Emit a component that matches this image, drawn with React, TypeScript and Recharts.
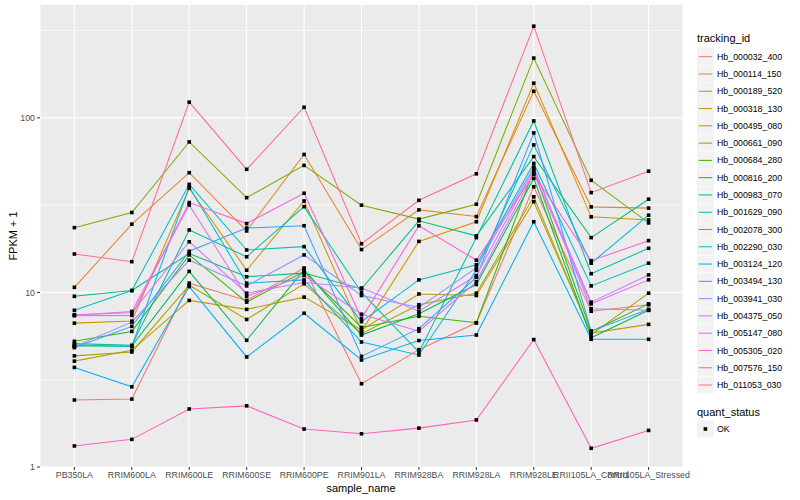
import React from 'react';
import { LineChart, Line, XAxis, YAxis, CartesianGrid } from 'recharts';

const FONT = "'Liberation Sans', Arial, Helvetica, sans-serif";

const categories = [
  'PB350LA', 'RRIM600LA', 'RRIM600LE', 'RRIM600SE', 'RRIM600PE', 'RRIM901LA',
  'RRIM928BA', 'RRIM928LA', 'RRIM928LE', 'RRII105LA_Control', 'RRII105LA_Stressed',
];

const trackingIds = [
  'Hb_000032_400', 'Hb_000114_150', 'Hb_000189_520', 'Hb_000318_130', 'Hb_000495_080',
  'Hb_000661_090', 'Hb_000684_280', 'Hb_000816_200', 'Hb_000983_070', 'Hb_001629_090',
  'Hb_002078_300', 'Hb_002290_030', 'Hb_003124_120', 'Hb_003494_130', 'Hb_003941_030',
  'Hb_004375_050', 'Hb_005147_080', 'Hb_005305_020', 'Hb_007576_150', 'Hb_011053_030',
];

const seriesColors = [
  '#F8766D', '#EA8331', '#D89000', '#C09B00', '#A3A500',
  '#7CAE00', '#39B600', '#00BB4E', '#00BF7D', '#00C1A3',
  '#00BFC4', '#00BAE0', '#00B0F6', '#35A2FF', '#9590FF',
  '#C77CFF', '#E76BF3', '#FA62DB', '#FF62BC', '#FF6C91',
];

const hb000032_400 = [2.42, 2.45, 11.3, 9.0, 13.8, 3.0, 4.7, 6.7, 40.3, 7.8, 8.5];
const hb000114_150 = [10.7, 24.6, 48.5, 22.5, 61.7, 17.6, 29.7, 27.2, 142, 30.9, 30.4];
const hb000189_520 = [6.67, 6.85, 39.5, 13.4, 33.4, 6.0, 19.6, 25.4, 158, 27.1, 26.0];
const hb000318_130 = [4.04, 4.66, 9.0, 8.0, 9.4, 6.1, 9.8, 9.6, 33.1, 5.85, 6.56];
const hb000495_080 = [4.33, 4.56, 11.0, 7.0, 11.2, 5.8, 8.5, 9.9, 35.3, 5.73, 9.9];
const hb000661_090 = [23.5, 28.7, 72.8, 34.9, 53.4, 31.6, 26.3, 32.0, 220, 43.9, 25.0];
const hb000684_280 = [5.25, 5.98, 16.4, 8.8, 13.2, 6.3, 7.3, 6.7, 50.0, 5.98, 8.6];
const hb000816_200 = [4.93, 4.93, 13.2, 5.32, 13.5, 5.7, 7.55, 11.1, 45, 5.5, 7.9];
const hb000983_070 = [9.5, 10.25, 16.7, 12.3, 12.9, 10.5, 25.7, 21.1, 60, 20.6, 34.2];
const hb001629_090 = [5.09, 4.98, 22.8, 16.0, 31.0, 10.0, 4.55, 20.6, 96, 12.8, 17.9];
const hb002078_300 = [7.9, 10.25, 41.6, 17.5, 18.3, 6.8, 11.8, 14.4, 54.8, 10.9, 14.7];
const hb002290_030 = [5.0, 4.9, 40.2, 11.3, 11.8, 5.2, 4.38, 13.4, 70, 14.7, 27.7];
const hb003124_120 = [3.72, 2.88, 10.8, 4.27, 7.6, 4.1, 5.3, 5.7, 25.4, 5.39, 5.39];
const hb003494_130 = [4.83, 6.39, 17.2, 23.4, 24.1, 4.3, 6.2, 12.2, 82, 6.0, 8.0];
const hb003941_030 = [4.9, 6.76, 15.3, 10.9, 16.4, 9.6, 8.2, 13.8, 52.2, 8.06, 7.9];
const hb004375_050 = [7.45, 7.65, 19.5, 9.9, 11.4, 10.6, 7.8, 12.5, 50.7, 8.8, 12.6];
const hb005147_080 = [7.4, 7.78, 31.7, 9.5, 12.5, 7.5, 6.0, 11.5, 48.1, 8.6, 11.8];
const hb005305_020 = [7.35, 7.39, 32.7, 24.8, 37.0, 7.1, 24.1, 15.3, 47.5, 15.2, 19.8];
const hb007576_150 = [1.32, 1.44, 2.15, 2.24, 1.65, 1.55, 1.67, 1.86, 5.37, 1.28, 1.62];
const hb011053_030 = [16.6, 15.0, 123, 50.7, 115, 19.0, 33.7, 47.8, 335, 37.3, 49.5];

const seriesValues = [
  hb000032_400, hb000114_150, hb000189_520, hb000318_130, hb000495_080,
  hb000661_090, hb000684_280, hb000816_200, hb000983_070, hb001629_090,
  hb002078_300, hb002290_030, hb003124_120, hb003494_130, hb003941_030,
  hb004375_050, hb005147_080, hb005305_020, hb007576_150, hb011053_030,
];

const yTicks = [1, 10, 100];
const yMinorTicks = [3.1623, 31.623, 316.23];
const yDomain = [1, 443];

const data = categories.map((c, i) => {
  const row: Record<string, any> = { sample: c };
  trackingIds.forEach((id, k) => {
    row[id] = seriesValues[k][i];
  });
  return row;
});

const squareDot = (props: any) => {
  const { cx, cy, index, dataKey } = props;
  if (cx == null || cy == null) return <g key={`${dataKey}-${index}`} />;
  return (
    <rect key={`${dataKey}-${index}`} x={cx - 1.8} y={cy - 1.8} width={3.6} height={3.6} fill="#000000" />
  );
};

const LEG_X = 697;
const LEG_Y0 = 56.7;
const LEG_STEP = 17.28;
const KEY = 16.8;

export default function App() {
  return (
    <div style={{ position: 'absolute', left: 0, top: 0, width: 800, height: 500, background: '#FFFFFF', fontFamily: FONT }}>
      <LineChart width={800} height={500} data={data} margin={{ top: 5, right: 117, bottom: 0, left: 0 }}>
        <CartesianGrid fill="#EBEBEB" stroke="#FFFFFF" strokeWidth={0.55} vertical={false} horizontalValues={yMinorTicks} />
        <CartesianGrid stroke="#FFFFFF" strokeWidth={1.1} horizontalValues={yTicks} />
        <XAxis
          dataKey="sample"
          type="category"
          padding={{ left: 34.4, right: 34.4 }}
          interval={0}
          axisLine={false}
          tickLine={{ stroke: '#333333' }}
          tickSize={3}
          tickMargin={2}
          height={33}
          tick={{ fontSize: 8.8, fill: '#4D4D4D', fontFamily: FONT }}
        />
        <YAxis
          type="number"
          scale="log"
          domain={yDomain}
          allowDataOverflow
          ticks={yTicks}
          width={40}
          axisLine={false}
          tickLine={{ stroke: '#333333' }}
          tickSize={3}
          tickMargin={2}
          tickFormatter={(v: number) => String(v)}
          tick={{ fontSize: 8.8, fill: '#4D4D4D', fontFamily: FONT }}
        />
        {trackingIds.map((id, k) => (
          <Line
            key={`line-${id}`}
            dataKey={id}
            stroke={seriesColors[k]}
            strokeWidth={1.05}
            dot={false}
            activeDot={false}
            type="linear"
            isAnimationActive={false}
          />
        ))}
        {trackingIds.map((id) => (
          <Line
            key={`pts-${id}`}
            dataKey={id}
            stroke="none"
            dot={squareDot}
            activeDot={false}
            type="linear"
            legendType="none"
            isAnimationActive={false}
          />
        ))}
      </LineChart>

      <div style={{ position: 'absolute', left: 13, top: 236, transform: 'translate(-50%, -50%) rotate(-90deg)', whiteSpace: 'nowrap', fontSize: 11, color: '#000' }}>
        FPKM + 1
      </div>
      <div style={{ position: 'absolute', left: 361, top: 488, transform: 'translate(-50%, -50%)', whiteSpace: 'nowrap', fontSize: 11, color: '#000' }}>
        sample_name
      </div>

      <svg width={800} height={500} style={{ position: 'absolute', left: 0, top: 0, pointerEvents: 'none' }}>
        <text x={LEG_X} y={42} fontSize={11} fill="#000" fontFamily={FONT}>tracking_id</text>
        {trackingIds.map((id, k) => {
          const cy = LEG_Y0 + k * LEG_STEP;
          return (
            <g key={`leg-${id}`}>
              <rect x={LEG_X} y={cy - KEY / 2} width={KEY} height={KEY} fill="#F2F2F2" />
              <line x1={LEG_X + 1.7} x2={LEG_X + KEY - 1.7} y1={cy} y2={cy} stroke={seriesColors[k]} strokeWidth={1.05} />
              <text x={717} y={cy + 3.1} fontSize={8.8} fill="#000" fontFamily={FONT}>{id}</text>
            </g>
          );
        })}
        <text x={LEG_X} y={416} fontSize={11} fill="#000" fontFamily={FONT}>quant_status</text>
        <rect x={LEG_X} y={429 - KEY / 2} width={KEY} height={KEY} fill="#F2F2F2" />
        <rect x={LEG_X + KEY / 2 - 1.8} y={429 - 1.8} width={3.6} height={3.6} fill="#000" />
        <text x={717} y={432.1} fontSize={8.8} fill="#000" fontFamily={FONT}>OK</text>
      </svg>
    </div>
  );
}
